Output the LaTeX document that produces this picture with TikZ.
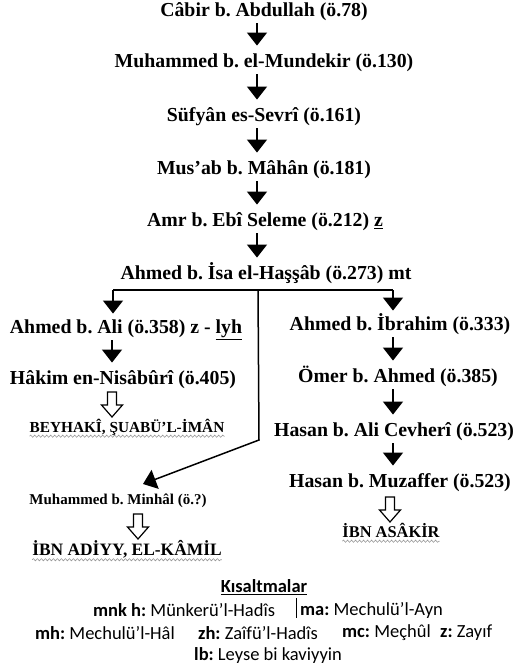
\documentclass[tikz,border=0pt]{standalone}
\usepackage{fontspec}
\setmainfont{Liberation Serif}
\newfontfamily\legfont{Carlito}
\usetikzlibrary{arrows.meta,decorations.pathmorphing,calc}
\frenchspacing
\begin{document}
\begin{tikzpicture}[x=1pt,y=-1pt,
  nm/.style={font=\bfseries\fontsize{19.8}{24}\selectfont, inner sep=0pt, text height=14pt, text depth=4.5pt},
  sm/.style={font=\bfseries\fontsize{15}{18}\selectfont, inner sep=0pt, text height=11pt, text depth=3.5pt},
  srcA/.style={font=\bfseries\fontsize{15.3}{18}\selectfont, inner sep=0pt, text height=11pt, text depth=1pt},
  srcB/.style={font=\bfseries\fontsize{17.4}{20}\selectfont, inner sep=0pt, text height=12pt, text depth=1pt},
  arr/.style={line width=1.5pt, -{Triangle[length=13pt,width=20pt]}, shorten <=2pt, shorten >=8pt},
  brl/.style={line width=1.6pt},
  wavy/.style={draw=gray!80, line width=0.6pt, decorate, decoration={snake, amplitude=1.1pt, segment length=4pt}},
  leg/.style={font=\legfont\fontsize{18.5}{22}\selectfont, inner sep=0pt, anchor=west},
  hollowarrow/.pic={\draw[line width=1.2pt, fill=white, line join=miter] (-4.5,0) -- (-4.5,13) -- (-10.5,13) -- (0,25) -- (10.5,13) -- (4.5,13) -- (4.5,0) -- cycle;}
]
\useasboundingbox (0,0) rectangle (513,670);

% main chain
\node[nm] (c1) at (264,12) {Câbir b. Abdullah (ö.78)};
\node[nm] (c2) at (264,63) {Muhammed b. el-Mundekir (ö.130)};
\node[nm] (c3) at (264,117) {Süfyân es-Sevrî (ö.161)};
\node[nm] (c4) at (264,170) {Mus’ab b. Mâhân (ö.181)};
\node[nm] (c5) at (265,222) {Amr b. Ebî Seleme (ö.212) \underline{z}};
\node[nm] (c6) at (266,275) {Ahmed b. İsa el-Haşşâb (ö.273) mt};

\coordinate (ax) at (257,0);
\foreach \a/\b in {c1/c2,c2/c3,c3/c4,c4/c5,c5/c6}
  \draw[arr] (\a.south -| ax) -- (\b.north -| ax);

% left branch
\node[nm] (L1) at (126,329) {Ahmed b. Ali (ö.358) z - \underline{lyh}};
\node[nm] (L2) at (123,380) {Hâkim en-Nisâbûrî (ö.405)};
\node[srcA] (L3) at (127,427) {BEYHAKÎ, ŞUABÜ’L-İMÂN};

% right branch
\node[nm] (R1) at (400,326) {Ahmed b. İbrahim (ö.333)};
\node[nm] (R2) at (398,378) {Ömer b. Ahmed (ö.385)};
\node[nm] (R3) at (394,432) {Hasan b. Ali Cevherî (ö.523)};
\node[nm] (R4) at (400,483) {Hasan b. Muzaffer (ö.523)};
\node[srcA, font=\bfseries\fontsize{16.4}{19}\selectfont] (R5) at (391,532) {İBN ASÂKİR};

% middle branch
\node[sm] (M1) at (118,501) {Muhammed b. Minhâl (ö.?)};
\node[srcB] (M2) at (127,550) {İBN ADİYY, EL-KÂMİL};

% branching lines
\coordinate (bl) at (113,290);
\coordinate (br) at (393,290);
\coordinate (bm) at (258,290);
\coordinate (bend) at (259,440);
\coordinate (mtip) at (143,484);
\draw[brl] (bl) -- (br);
\draw[arr, shorten <=0pt, shorten >=6pt] (bl) -- (L1.north -| bl);
\draw[arr, shorten <=0pt, shorten >=6pt] (br) -- (R1.north -| br);
\draw[arr, shorten <=0pt, shorten >=0pt, line join=miter] (bm) -- (bend) -- (mtip);

\coordinate (lx) at (112,0);
\coordinate (rx) at (393,0);
\draw[arr] (L1.south -| lx) -- (L2.north -| lx);
\draw[arr] (R1.south -| rx) -- (R2.north -| rx);
\draw[arr] (R2.south -| rx) -- (R3.north -| rx);
\draw[arr] (R3.south -| rx) -- (R4.north -| rx);

% hollow arrows
\pic at (112,392) {hollowarrow};
\pic at (390,497) {hollowarrow};
\pic at (138,514) {hollowarrow};

% wavy underlines
\draw[wavy] ($(L3.south west)+(0,3)$) -- ($(L3.south east)+(0,3)$);
\draw[wavy] ($(R5.south west)+(0,3)$) -- ($(R5.south east)+(0,3)$);
\draw[wavy] ($(M2.south west)+(0,3)$) -- ($(M2.south east)+(0,3)$);

% legend
\node[leg, anchor=center] (k) at (264,587) {\bfseries\underline{Kısaltmalar}};
\node[leg] (g1) at (93,610) {\textbf{mnk h:} Münkerü’l-Hadîs};
\node[leg] (g2) at (300,610) {\textbf{ma:} Mechulü’l-Ayn};
\node[leg] (g3) at (35,633) {\textbf{mh:} Mechulü’l-Hâl};
\node[leg] (g4) at (198,633) {\textbf{zh:} Zaîfü’l-Hadîs};
\node[leg] (g5) at (342,633) {\textbf{mc:} Meçhûl};
\node[leg] (g6) at (440,633) {\textbf{z:} Zayıf};
\node[leg] (g7) at (194,655) {\textbf{lb:} Leyse bi kaviyyin};
\draw[line width=1pt] (296,598) -- (296,618);
\end{tikzpicture}
\end{document}
